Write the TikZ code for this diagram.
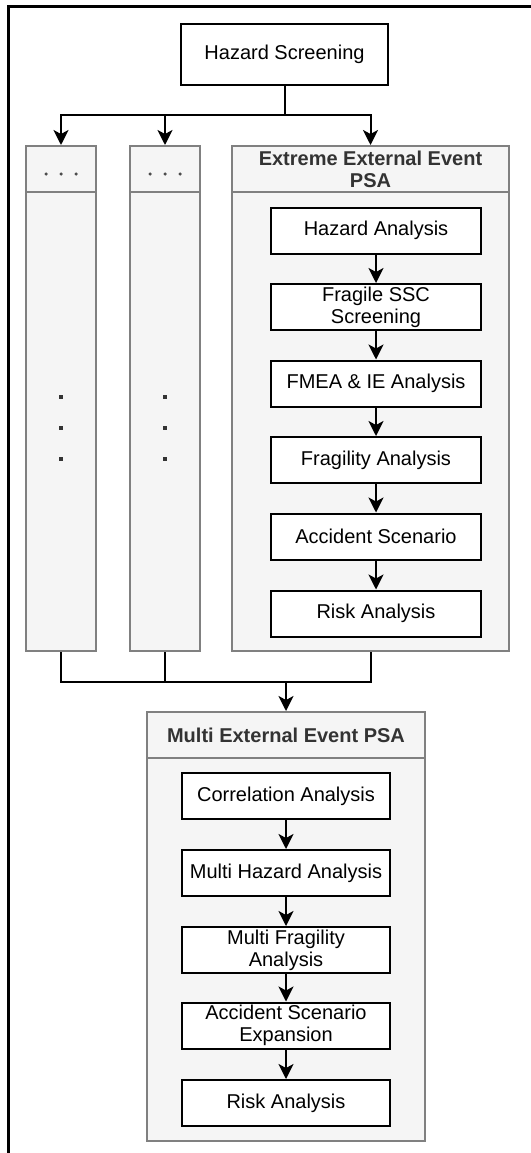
\documentclass[tikz,border=0pt]{standalone}
\usepackage{fontspec}
\setmainfont{Liberation Sans}
\usetikzlibrary{arrows.meta}
\begin{document}
\begin{tikzpicture}[x=1pt,y=-1pt,
  box/.style={draw=black,line width=2pt,fill=white,minimum width=210pt,minimum height=46pt,inner sep=0pt,align=center,font=\fontsize{20}{22}\selectfont},
  cont/.style={draw=black!50,line width=2pt,fill=black!4,inner sep=0pt},
  sepline/.style={draw=black!50,line width=2pt},
  hdr/.style={font=\bfseries\fontsize{20}{22}\selectfont,text=black!80,align=center,inner sep=0pt},
  conn/.style={line width=2pt,black},
  arr/.style={conn,-{Stealth[length=15pt,width=15pt,inset=4pt]}},
  vdot/.style={fill=black!80,inner sep=0pt,minimum size=3.5pt},
  hdot/.style={circle,fill=black!70,inner sep=0pt,minimum size=3.5pt},
]
\useasboundingbox (0,0) rectangle (530,1153);
% outer frame (only top and left visible)
\draw[line width=3pt] (8,1160) -- (8,7) -- (540,7);

% top box
\node[box,minimum width=207pt,minimum height=61pt] (hs) at (284.5,54.5) {Hazard Screening};

% containers
\node[cont,minimum width=70pt,minimum height=505pt] (c1) at (61,398.5) {};
\node[cont,minimum width=70pt,minimum height=505pt] (c2) at (165,398.5) {};
\node[cont,minimum width=277pt,minimum height=505pt] (ext) at (370.5,398.5) {};
\draw[sepline] (c1.west |- 0,192) -- (c1.east |- 0,192);
\draw[sepline] (c2.west |- 0,192) -- (c2.east |- 0,192);
\draw[sepline] (ext.west |- 0,192) -- (ext.east |- 0,192);
\node[hdr] (exth) at (370.5,169) {Extreme External Event\\PSA};

% header dots
\foreach \cx/\nm in {61/a,165/b}{
  \node[hdot] (hd\nm1) at (\cx-15,174) {};
  \node[hdot] (hd\nm2) at (\cx,174) {};
  \node[hdot] (hd\nm3) at (\cx+15,174) {};
  \node[vdot] (vd\nm1) at (\cx,397) {};
  \node[vdot] (vd\nm2) at (\cx,428) {};
  \node[vdot] (vd\nm3) at (\cx,459) {};
}

% extreme inner boxes
\node[box] (e1) at (376,230.5) {Hazard Analysis};
\node[box] (e2) at (376,307) {Fragile SSC\\Screening};
\node[box] (e3) at (376,383.5) {FMEA \& IE Analysis};
\node[box] (e4) at (376,460) {Fragility Analysis};
\node[box] (e5) at (376,536.5) {Accident Scenario};
\node[box] (e6) at (376,613.5) {Risk Analysis};
\foreach \a/\b in {e1/e2,e2/e3,e3/e4,e4/e5,e5/e6}{\draw[arr] (\a) -- (\b);}

% multi container
\node[cont,minimum width=278pt,minimum height=429pt] (mu) at (286,926.5) {};
\draw[sepline] (mu.west |- 0,758) -- (mu.east |- 0,758);
\node[hdr] (muh) at (286,735) {Multi External Event PSA};

\node[box,minimum width=208pt] (m1) at (286,796) {Correlation Analysis};
\node[box,minimum width=208pt] (m2) at (286,873) {Multi Hazard Analysis};
\node[box,minimum width=208pt] (m3) at (286,950) {Multi Fragility\\Analysis};
\node[box,minimum width=208pt] (m4) at (286,1025.5) {Accident Scenario\\Expansion};
\node[box,minimum width=208pt] (m5) at (286,1103) {Risk Analysis};
\foreach \a/\b in {m1/m2,m2/m3,m3/m4,m4/m5}{\draw[arr] (\a) -- (\b);}

% top connectors
\coordinate (j1) at (284.5,115);
\draw[conn] (hs.south) -- (j1);
\draw[arr] (j1) -| (c1.north);
\draw[arr] (j1) -| (c2.north);
\draw[arr] (j1) -| (ext.north);

% bottom connectors
\coordinate (j2) at (286,682);
\draw[conn] (c1.south) |- (j2);
\draw[conn] (c2.south) |- (j2);
\draw[conn] (ext.south) |- (j2);
\draw[arr] (j2) -- (mu.north);
\end{tikzpicture}
\end{document}
